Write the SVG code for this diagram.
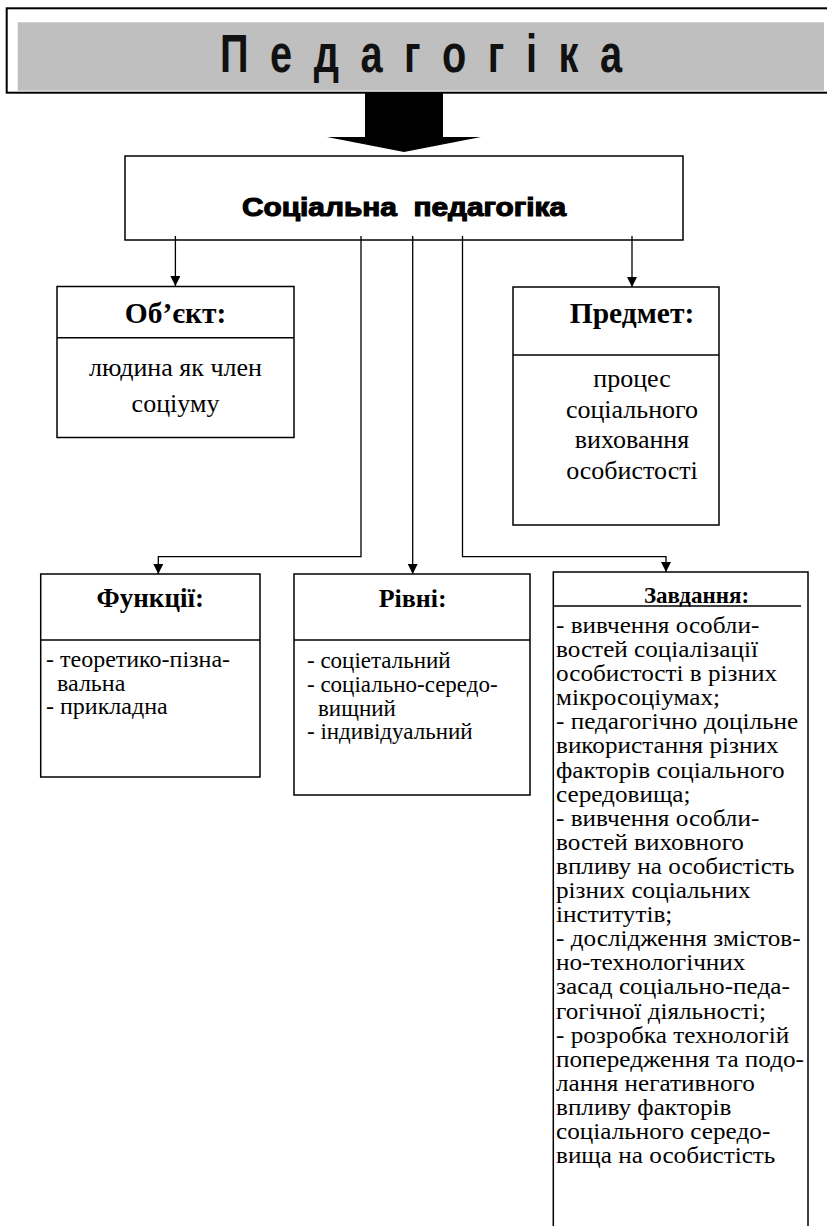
<svg xmlns="http://www.w3.org/2000/svg" width="827" height="1226" viewBox="0 0 827 1226">
<style>
.box{fill:#fff;stroke:#000;stroke-width:1.5}
.div{stroke:#000;stroke-width:1.5}
.con{fill:none;stroke:#000;stroke-width:1.3}
.hd{font-family:"Liberation Serif","Times New Roman",serif;font-weight:bold;fill:#000}
.bd{font-family:"Liberation Serif","Times New Roman",serif;fill:#000}
</style>
<defs>
<marker id="ah" viewBox="0 0 10 10" refX="10" refY="5" markerWidth="10" markerHeight="10" markerUnits="userSpaceOnUse" orient="auto">
<path d="M0,0 L10,5 L0,10 z" fill="#000"/>
</marker>
</defs>
<rect width="827" height="1226" fill="#fff"/>

<g id="title">
<rect x="6.7" y="8.3" width="830" height="84.4" fill="#fff" stroke="#000" stroke-width="2"/>
<rect x="17.7" y="22.3" width="806.3" height="68.4" fill="#bfbfbf"/>
<text transform="translate(421 72) scale(0.75 1)" x="0" y="0" text-anchor="middle" textLength="536" lengthAdjust="spacing" font-family="Liberation Sans, Arial, sans-serif" font-weight="bold" font-size="53" fill="#111">П е д а г о г і к а</text>
</g>

<g id="big-arrow">
<polygon points="365,92 443,92 443,137 481,137 404,152 327,137 365,137" fill="#000"/>
</g>

<g id="social">
<rect class="box" x="125" y="156" width="558" height="84"/>
<text x="404" y="216" text-anchor="middle" textLength="324" lengthAdjust="spacingAndGlyphs" font-family="Liberation Sans, Arial, sans-serif" font-weight="bold" font-size="25.5" fill="#000" stroke="#000" stroke-width="1.1">Соціальна&#160; педагогіка</text>
</g>

<g id="object">
<rect class="box" x="57" y="286.5" width="237" height="151"/>
<line class="div" x1="57" y1="337.7" x2="294" y2="337.7"/>
<text class="hd" x="175.5" y="323" text-anchor="middle" font-size="29.5">Об’єкт:</text>
<text class="bd" x="175.5" y="375.5" text-anchor="middle" font-size="26">людина як член</text>
<text class="bd" x="175.5" y="411.5" text-anchor="middle" font-size="26">соціуму</text>
</g>

<g id="subject">
<rect class="box" x="513" y="287" width="206" height="238"/>
<line class="div" x1="513" y1="355" x2="719" y2="355"/>
<text class="hd" x="632" y="323" text-anchor="middle" font-size="29.5">Предмет:</text>
<text class="bd" x="632" y="387" text-anchor="middle" font-size="26">процес</text>
<text class="bd" x="632" y="417.7" text-anchor="middle" font-size="26">соціального</text>
<text class="bd" x="632" y="448.3" text-anchor="middle" font-size="26">виховання</text>
<text class="bd" x="632" y="479" text-anchor="middle" font-size="26">особистості</text>
</g>

<g id="functions">
<rect class="box" x="40.7" y="574" width="219.3" height="203"/>
<line class="div" x1="40.7" y1="640" x2="260" y2="640"/>
<text class="hd" x="150.3" y="606.7" text-anchor="middle" font-size="27">Функції:</text>
<text class="bd" x="46" y="667" font-size="24">- теоретико-пізна-</text>
<text class="bd" x="57" y="690.5" font-size="24">вальна</text>
<text class="bd" x="46" y="714" font-size="24">- прикладна</text>
</g>

<g id="levels">
<rect class="box" x="294" y="574" width="236" height="221"/>
<line class="div" x1="294" y1="640" x2="530" y2="640"/>
<text class="hd" x="412.7" y="606.7" text-anchor="middle" font-size="26">Рівні:</text>
<text class="bd" x="307" y="668" font-size="23">- соціетальний</text>
<text class="bd" x="307" y="692" font-size="23">- соціально-середо-</text>
<text class="bd" x="318" y="715.5" font-size="23">вищний</text>
<text class="bd" x="307" y="739" font-size="23">- індивідуальний</text>
</g>

<g id="tasks">
<rect class="box" x="553.3" y="572" width="254.7" height="680"/>
<text class="hd" x="696.5" y="603" text-anchor="middle" font-size="23">Завдання:</text>
<line class="div" x1="553.3" y1="606" x2="801" y2="606"/>
<g class="bd" font-size="22.5" transform="translate(556 0) scale(1.12 1)">
<text x="0" y="633">- вивчення особли-</text>
<text x="0" y="657.1">востей соціалізації</text>
<text x="0" y="681.2">особистості в різних</text>
<text x="0" y="705.3">мікросоціумах;</text>
<text x="0" y="729.4">- педагогічно доцільне</text>
<text x="0" y="753.5">використання різних</text>
<text x="0" y="777.6">факторів соціального</text>
<text x="0" y="801.7">середовища;</text>
<text x="0" y="825.8">- вивчення особли-</text>
<text x="0" y="849.9">востей виховного</text>
<text x="0" y="874">впливу на особистість</text>
<text x="0" y="898.1">різних соціальних</text>
<text x="0" y="922.2">інститутів;</text>
<text x="0" y="946.3">- дослідження змістов-</text>
<text x="0" y="970.4">но-технологічних</text>
<text x="0" y="994.5">засад соціально-педа-</text>
<text x="0" y="1018.6">гогічної діяльності;</text>
<text x="0" y="1042.7">- розробка технологій</text>
<text x="0" y="1066.8">попередження та подо-</text>
<text x="0" y="1090.9">лання негативного</text>
<text x="0" y="1115">впливу факторів</text>
<text x="0" y="1139.1">соціального середо-</text>
<text x="0" y="1163.2">вища на особистість</text>
</g>
</g>

<g id="connectors">
<path class="con" d="M175.4,236 V286" marker-end="url(#ah)"/>
<path class="con" d="M632,236 V287" marker-end="url(#ah)"/>
<path class="con" d="M361,236 V556.7 H158.3 V574" marker-end="url(#ah)"/>
<path class="con" d="M412.7,236 V574" marker-end="url(#ah)"/>
<path class="con" d="M462.5,236 V556.7 H666 V572" marker-end="url(#ah)"/>
</g>
</svg>
